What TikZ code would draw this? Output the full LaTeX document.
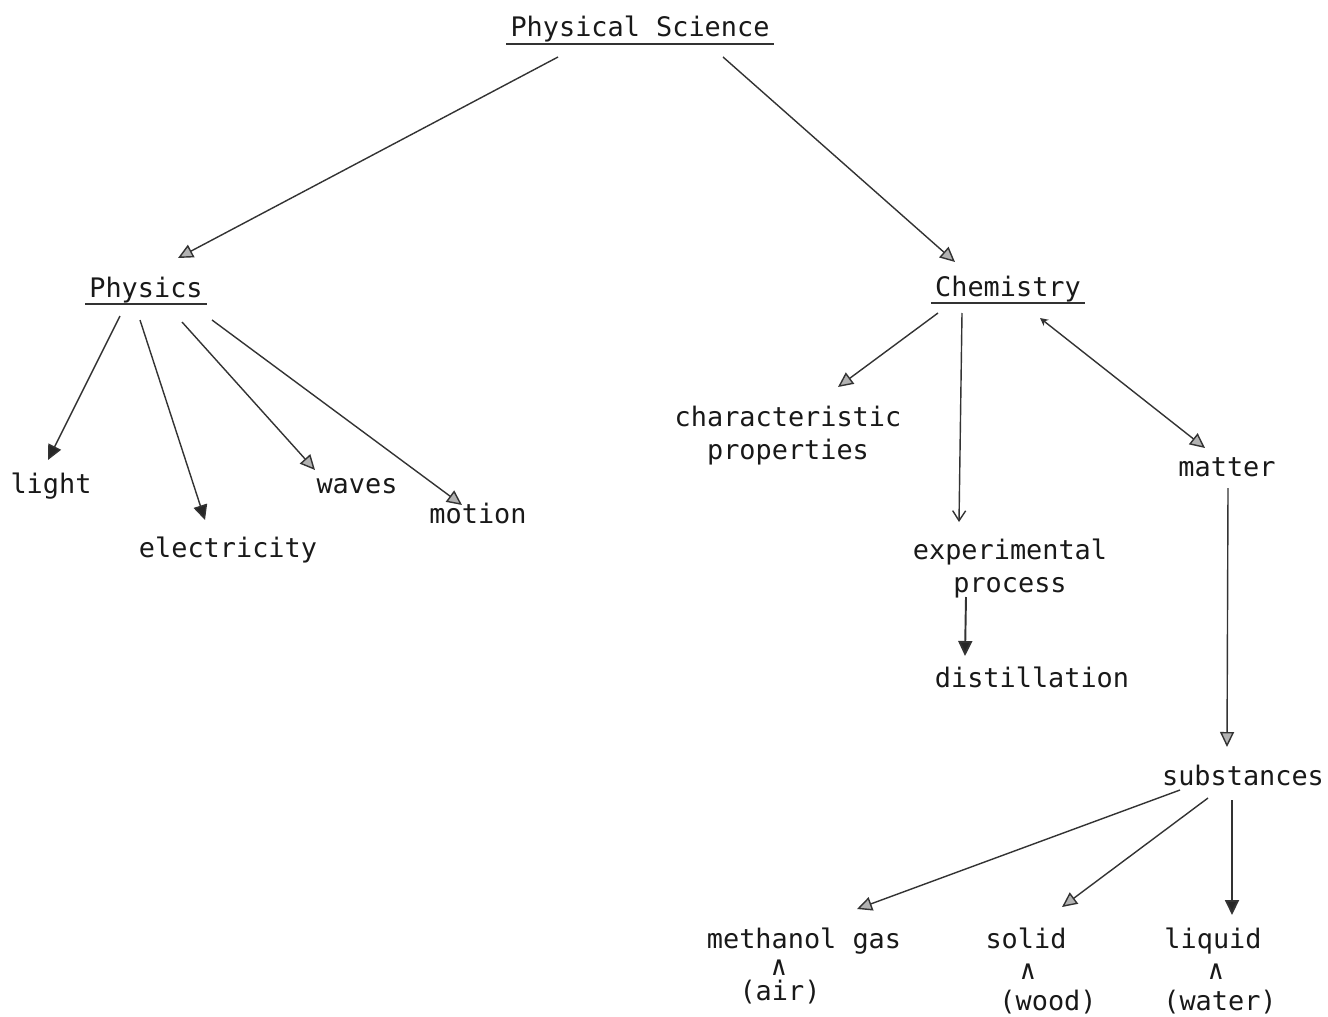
\documentclass[tikz,border=0pt]{standalone}
\usepackage{fontspec}
\setmainfont{DejaVu Sans Mono}
\usetikzlibrary{arrows.meta}

\begin{document}
\begin{tikzpicture}[x=0.02cm,y=-0.02cm,color=black!80,line width=0.8pt,
  >={Triangle[length=3mm,width=2.8mm,fill=black!30]},
  word/.style={anchor=base,inner sep=1pt,align=center,text=black!90,font=\fontsize{15.3}{18.5}\selectfont},
  head/.style={word,inner xsep=2pt,inner ysep=0.5pt},
  full head/.style={-{Triangle[length=3mm,width=2.8mm,fill=black!85]}}]

  \useasboundingbox (0,0) rectangle (1328,1017);

  \node[head] (ps) at (640,37) {Physical Science};
  \node[head] (phys) at (146,297) {Physics};
  \node[head] (chem) at (1008,296) {Chemistry};
  \node[word] (light) at (51,493) {light};
  \node[word] (elec) at (228,557) {electricity};
  \node[word] (waves) at (357,493) {waves};
  \node[word] (motion) at (478,523) {motion};
  \node[word] (charprop) at (788,459) {characteristic\\properties};
  \node[word] (matter) at (1227,476) {matter};
  \node[word] (exproc) at (1010,592) {experimental\\process};
  \node[word] (distil) at (1032,687) {distillation};
  \node[word] (subst) at (1243,785) {substances};
  \node[word] (methgas) at (804,948) {methanol gas};
  \node[word] (solid) at (1026,948) {solid};
  \node[word] (liquid) at (1213,948) {liquid};
  \node[word,inner sep=0pt] (caretA) at (779,975) {∧};
  \node[word,inner sep=0pt] (caretB) at (1028,979) {∧};
  \node[word,inner sep=0pt] (caretC) at (1216,979) {∧};
  \node[word] (air) at (780,1000) {(air)};
  \node[word] (wood) at (1048,1010) {(wood)};
  \node[word] (water) at (1220,1010) {(water)};

  \draw (ps.south west) -- (ps.south east);
  \draw (phys.south west) -- (phys.south east);
  \draw (chem.south west) -- (chem.south east);

  \path[->]
    ([shift={(-82,20)}]ps.base) edge ([shift={(32,-39)}]phys.base)
    ([shift={(83,20)}]ps.base) edge ([shift={(-53,-34)}]chem.base)
    ([shift={(-26,19)}]phys.base) edge[full head] ([shift={(-3,-33)}]light.base)
    ([shift={(-6,23)}]phys.base) edge[full head] ([shift={(-23,-37)}]elec.base)
    ([shift={(36,25)}]phys.base) edge ([shift={(-42,-23)}]waves.base)
    ([shift={(66,23)}]phys.base) edge ([shift={(-16,-18)}]motion.base)
    ([shift={(-70,17)}]chem.base) edge ([shift={(50,-72)}]charprop.base)
    ([shift={(-46,17)}]chem.base) edge[-{Straight Barb[length=2mm,width=2.6mm]}] ([shift={(-51,-70)}]exproc.base)
    ([shift={(32,22)}]chem.base) edge[{Stealth[length=1.6mm,width=1.6mm]}->] ([shift={(-22,-28)}]matter.base)
    ([shift={(-44,5)}]exproc.base) edge[full head,line width=1.1pt] ([shift={(-67,-31)}]distil.base)
    ([shift={(1,12)}]matter.base) edge ([shift={(-16,-38)}]subst.base)
    ([shift={(-63,5)}]subst.base) edge ([shift={(53,-39)}]methgas.base)
    ([shift={(-35,13)}]subst.base) edge ([shift={(36,-41)}]solid.base)
    ([shift={(-11,15)}]subst.base) edge[full head,line width=1.1pt] ([shift={(19,-33)}]liquid.base);
\end{tikzpicture}
\end{document}
